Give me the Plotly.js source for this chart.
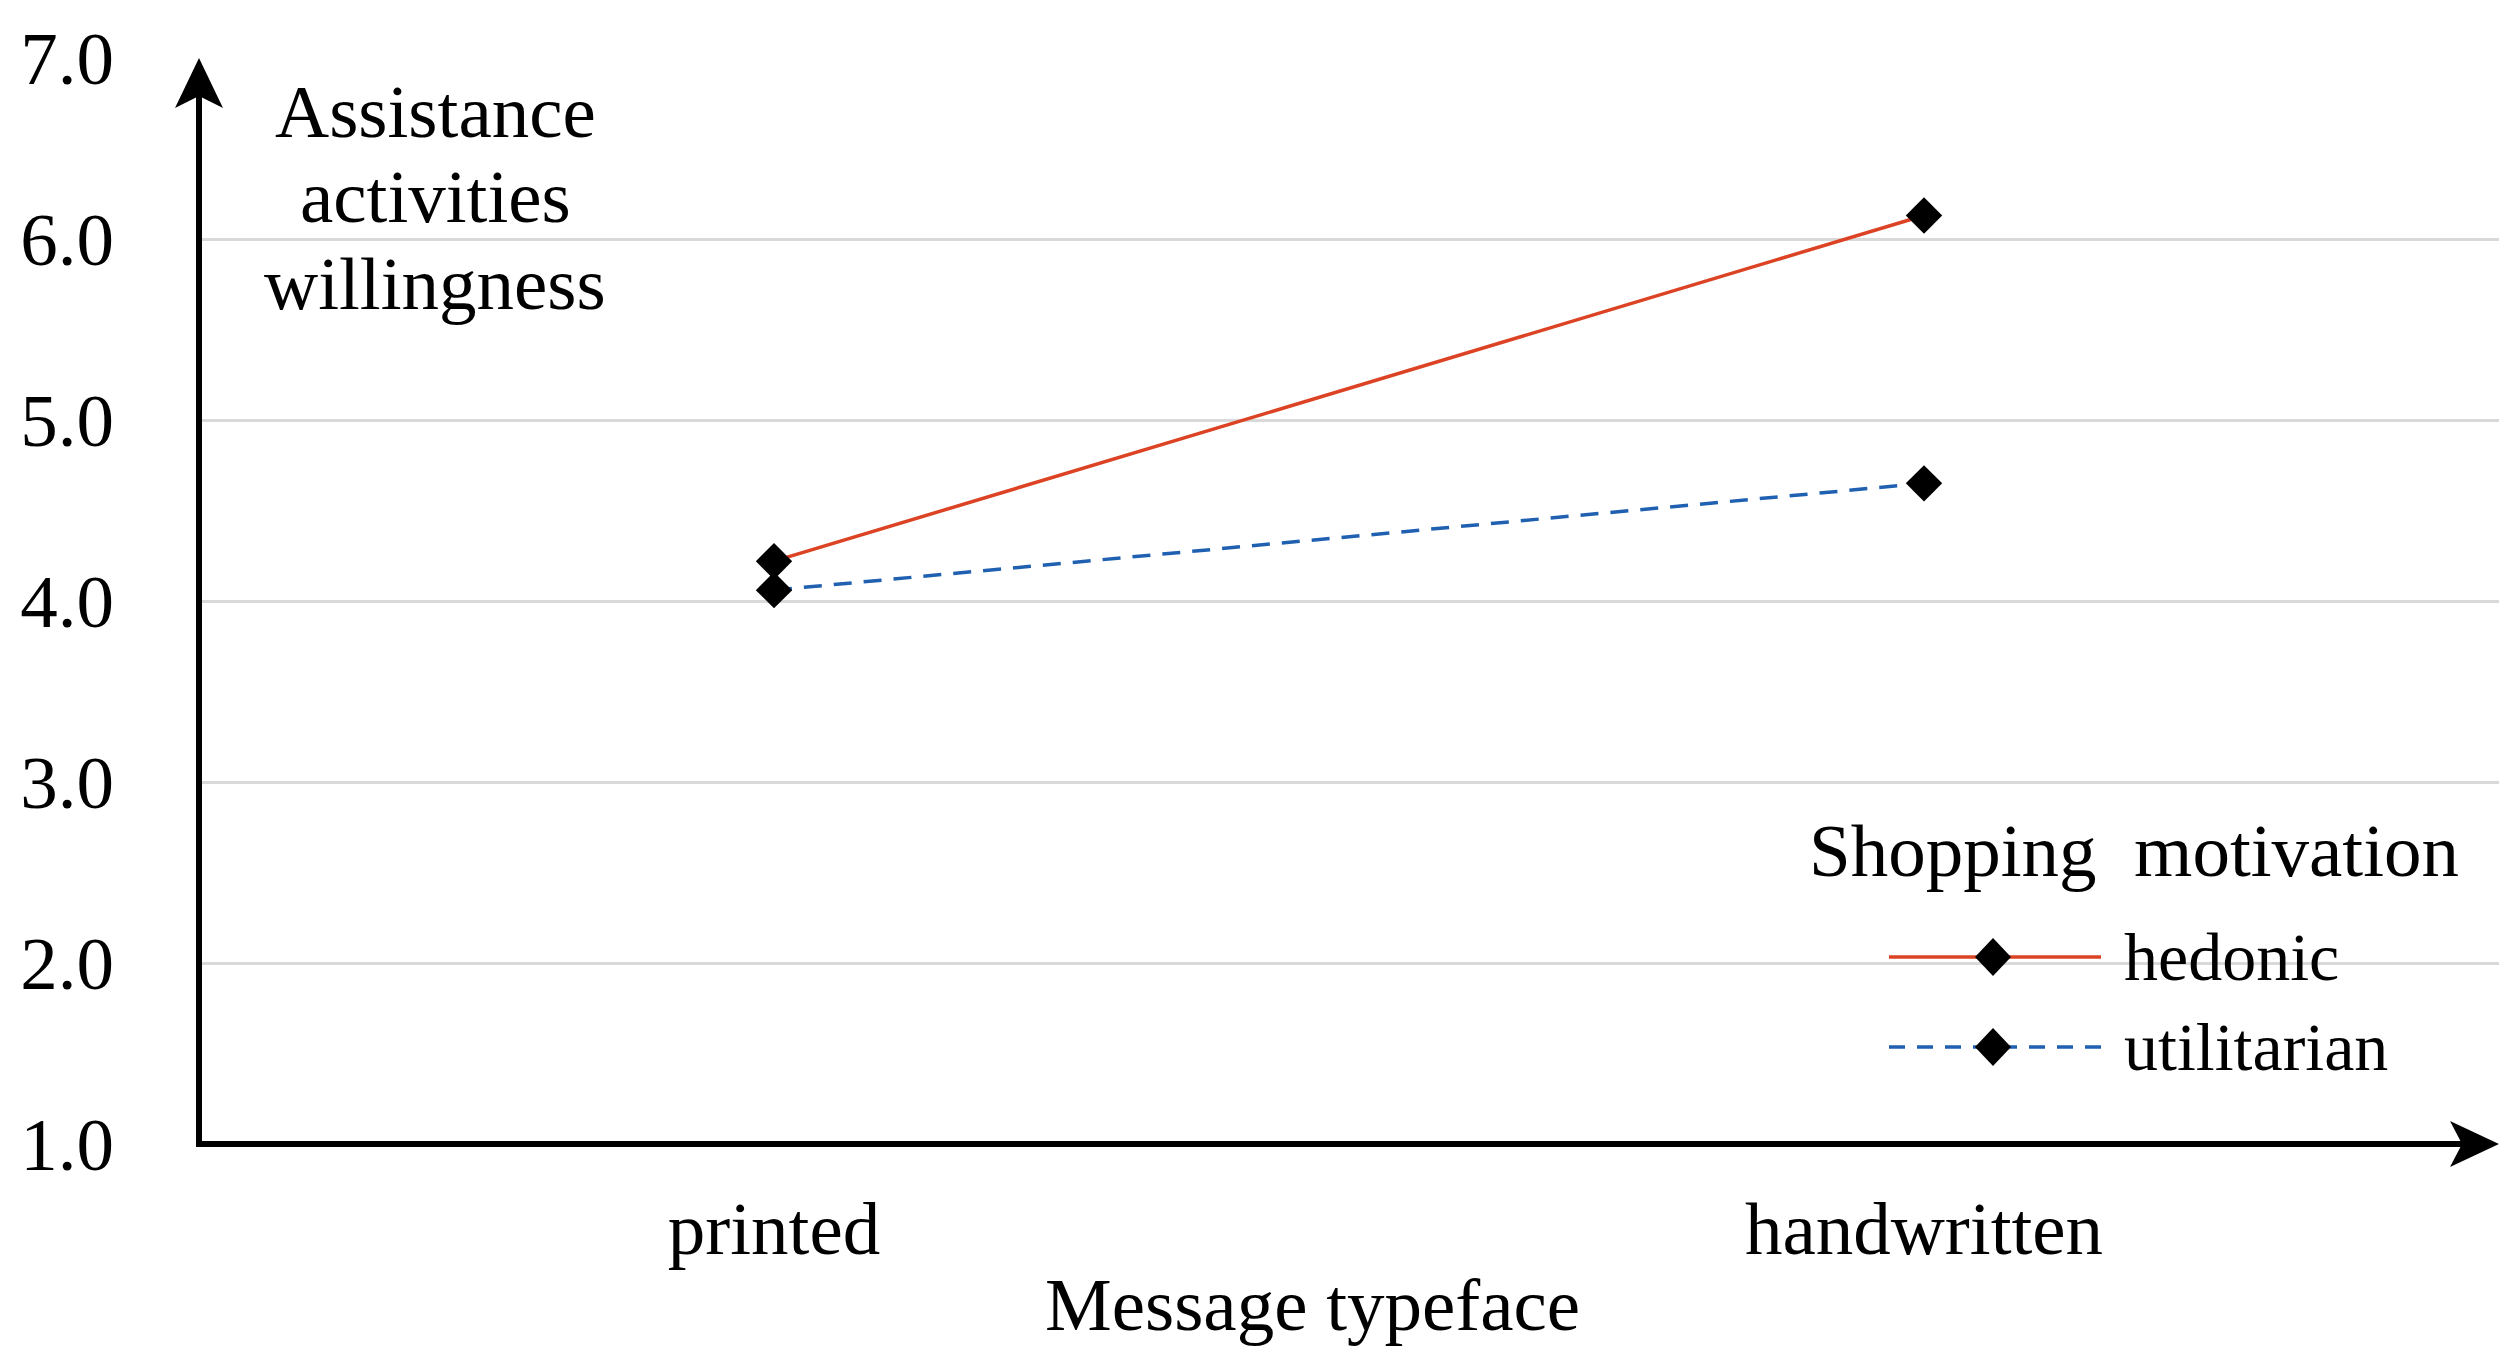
<!DOCTYPE html>
<html>
<head>
<meta charset="utf-8">
<script src="https://cdn.plot.ly/plotly-3.0.1.min.js"></script>
<style>
  html, body { margin: 0; padding: 0; background: #ffffff; }
  #chart { width: 2518px; height: 1366px; }
</style>
</head>
<body>
<div id="chart"></div>
<script>
// ---- data ----
const categories = ['printed', 'handwritten'];
const hedonic = [4.22, 6.13];
const utilitarian = [4.06, 4.65];
const seriesNames = ['hedonic', 'utilitarian'];
const seriesColors = ['#DB4324', '#2060B0'];
const seriesDash = ['solid', '18px,12px'];
const yTicks = [1, 2, 3, 4, 5, 6, 7];
const yTickLabels = ['1.0', '2.0', '3.0', '4.0', '5.0', '6.0', '7.0'];
const xTitle = 'Message typeface';
const yTitleLines = ['Assistance', 'activities', 'willingness'];
const legendTitle = 'Shopping\u00a0 motivation';

// ---- layout geometry ----
const W = 2518, H = 1366;
const M = { l: 199, r: 19, t: 58, b: 222 };
const PW = W - M.l - M.r, PH = H - M.t - M.b;
const px = v => (v - M.l) / PW;          // pixel x -> paper
const py = v => (H - M.b - v) / PH;      // pixel y -> paper
const FONT = '"Times New Roman", "Liberation Serif", serif';
const FS = 75;
const FS_LEG = 68;

const seriesValues = [hedonic, utilitarian];
const traces = seriesValues.map((vals, i) => ({
  x: categories, y: vals, name: seriesNames[i], type: 'scatter', mode: 'lines+markers',
  line: { color: seriesColors[i], width: 3.5, dash: seriesDash[i] },
  marker: { symbol: 'diamond', size: 28, color: '#000000', line: { width: 0 } },
  showlegend: false
}));

// axis arrows (decoration in paper coords)
const yHalf = 24 / PW, yBase = py(108), yNotch = py(96);
const xHalf = 23 / PH, xBase = px(2450), xNotch = px(2462);

const shapes = [
  { type: 'line', xref: 'paper', yref: 'paper', x0: 0, y0: 0, x1: 0, y1: yNotch,
    line: { color: '#000', width: 6 } },
  { type: 'line', xref: 'paper', yref: 'paper', x0: -3 / PW, y0: 0, x1: xNotch, y1: 0,
    line: { color: '#000', width: 6 } },
  { type: 'path', xref: 'paper', yref: 'paper', fillcolor: '#000', line: { width: 0 },
    path: `M 0 1 L ${yHalf} ${yBase} L 0 ${yNotch} L ${-yHalf} ${yBase} Z` },
  { type: 'path', xref: 'paper', yref: 'paper', fillcolor: '#000', line: { width: 0 },
    path: `M 1 0 L ${xBase} ${xHalf} L ${xNotch} 0 L ${xBase} ${-xHalf} Z` }
];

// manual legend (large diamond symbols like the reference)
const legItemY = [957, 1047];
const legLineX0 = 1889, legLineX1 = 2101, legMarkX = 1993, legTextX = 2122;
const dHalfW = 18, dHalfH = 19;
const annotations = [];
seriesNames.forEach((nm, i) => {
  const yy = legItemY[i];
  shapes.push({ type: 'line', xref: 'paper', yref: 'paper',
    x0: px(legLineX0), x1: px(legLineX1), y0: py(yy), y1: py(yy),
    line: { color: seriesColors[i], width: 3.5, dash: i === 0 ? 'solid' : '16px,12px' } });
  shapes.push({ type: 'path', xref: 'paper', yref: 'paper', fillcolor: '#000', line: { width: 0 },
    path: `M ${px(legMarkX)} ${py(yy - dHalfH)} L ${px(legMarkX + dHalfW)} ${py(yy)} ` +
          `L ${px(legMarkX)} ${py(yy + dHalfH)} L ${px(legMarkX - dHalfW)} ${py(yy)} Z` });
  annotations.push({ xref: 'paper', yref: 'paper', x: px(legTextX), y: py(yy),
    xanchor: 'left', yanchor: 'middle', text: nm, showarrow: false,
    font: { family: FONT, size: FS_LEG, color: '#000' } });
});
annotations.push({ xref: 'paper', yref: 'paper', x: px(2134), y: py(850),
  xanchor: 'center', yanchor: 'middle', text: legendTitle, showarrow: false,
  font: { family: FONT, size: FS, color: '#000' } });

// y-axis title lines inside the plot
const yTitleY = [111, 197, 283];
yTitleLines.forEach((t, i) => annotations.push({
  xref: 'paper', yref: 'paper', x: px(435), y: py(yTitleY[i]), xanchor: 'center', yanchor: 'middle',
  text: t, showarrow: false, font: { family: FONT, size: FS, color: '#000' } }));

// x-axis title
annotations.push({ xref: 'paper', yref: 'paper', x: px(1312), y: py(1304),
  xanchor: 'center', yanchor: 'middle', text: xTitle, showarrow: false,
  font: { family: FONT, size: FS, color: '#000' } });

const layout = {
  width: W, height: H,
  margin: M,
  paper_bgcolor: '#ffffff', plot_bgcolor: '#ffffff',
  font: { family: FONT, size: FS, color: '#000000' },
  showlegend: false,
  xaxis: {
    type: 'category', range: [-0.5, 1.5], showgrid: false, zeroline: false, showline: false,
    ticks: '', ticklabelstandoff: 34,
    tickfont: { family: FONT, size: FS, color: '#000' }
  },
  yaxis: {
    range: [1, 7], tickvals: yTicks, ticktext: yTickLabels, showgrid: true,
    gridcolor: '#d9d9d9', gridwidth: 3, zeroline: false, showline: false,
    ticks: '', ticklabelstandoff: 84,
    tickfont: { family: FONT, size: FS, color: '#000' }
  },
  annotations: annotations,
  shapes: shapes
};

Plotly.newPlot('chart', traces, layout, { displayModeBar: false, staticPlot: true });
</script>
</body>
</html>
